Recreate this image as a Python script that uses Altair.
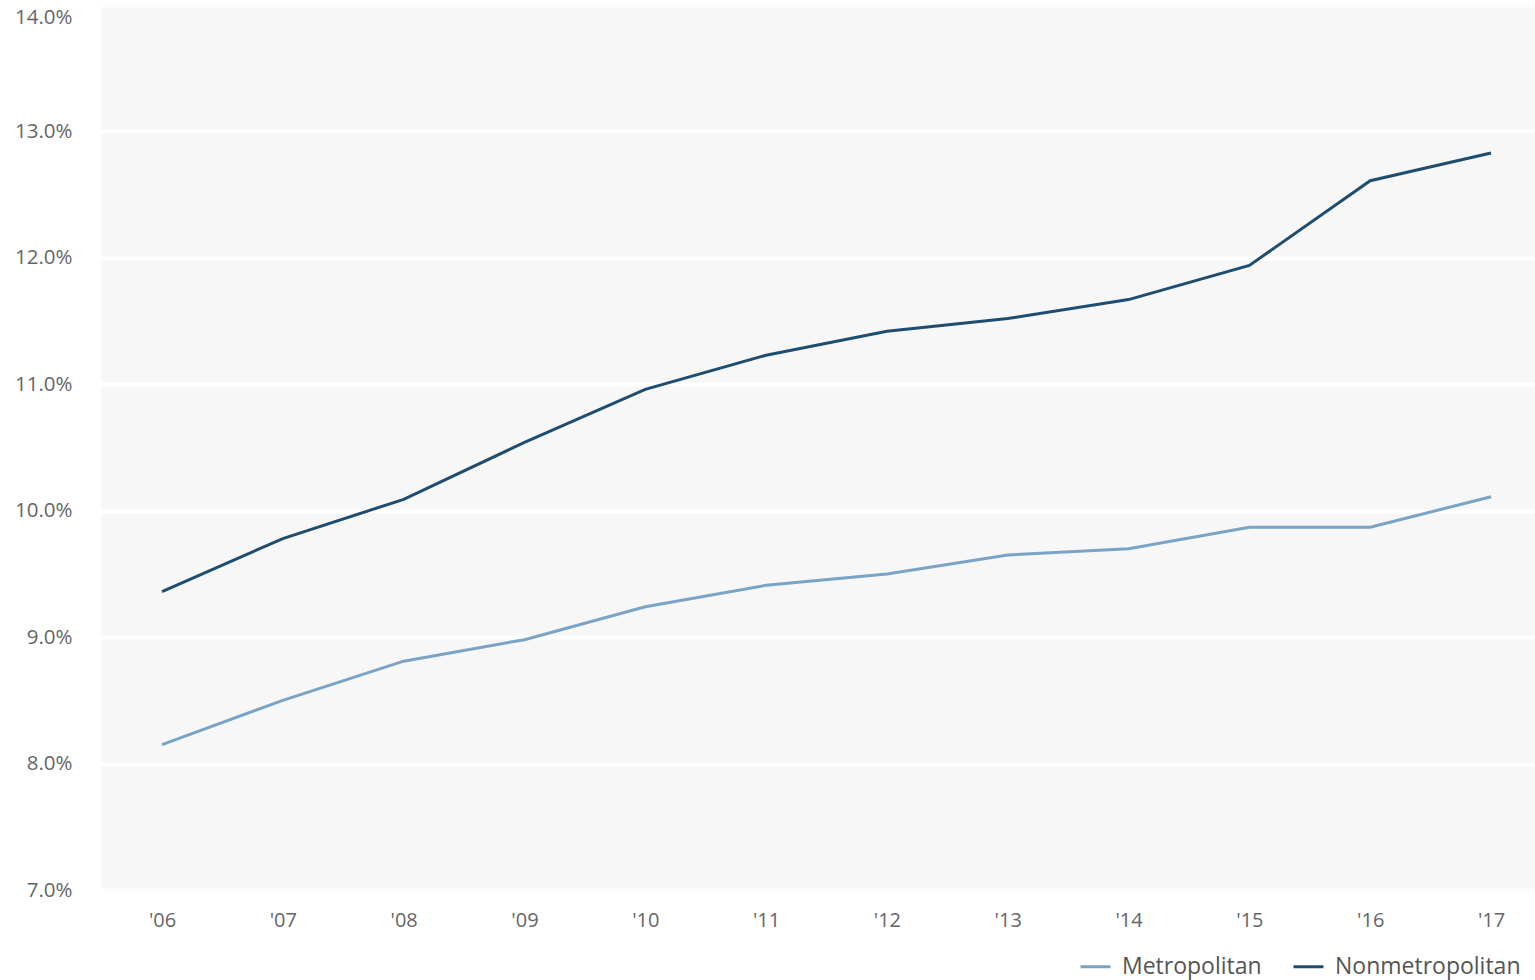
import altair as alt
import pandas as pd

# Share of population (%) by county type, 2006-2017
years = [2006, 2007, 2008, 2009, 2010, 2011, 2012, 2013, 2014, 2015, 2016, 2017]
year_labels = ["'06", "'07", "'08", "'09", "'10", "'11", "'12", "'13", "'14", "'15", "'16", "'17"]
metropolitan = [8.15, 8.50, 8.81, 8.98, 9.24, 9.41, 9.50, 9.65, 9.70, 9.87, 9.87, 10.11]
nonmetropolitan = [9.36, 9.78, 10.09, 10.54, 10.96, 11.23, 11.42, 11.52, 11.67, 11.94, 12.61, 12.83]
series_names = ["Metropolitan", "Nonmetropolitan"]
series_colors = ["#7aa3c6", "#1f4d70"]
y_ticks = [7, 8, 9, 10, 11, 12, 13, 14]

rows = []
for name, vals in zip(series_names, [metropolitan, nonmetropolitan]):
    for yr, v in zip(years, vals):
        rows.append({"year": yr, "value": v, "series": name})
df = pd.DataFrame(rows)

# map each year to its short label for the x axis
label_map = ", ".join(f'"{y}": "{lab}"' for y, lab in zip(years, year_labels))
x_label_expr = "{" + label_map + "}[toString(datum.value)]"

FONT = "Open Sans"

chart = (
    alt.Chart(df)
    .mark_line(strokeWidth=3)
    .encode(
        x=alt.X(
            "year:Q",
            scale=alt.Scale(domain=[2005.495, 2017.364], nice=False, zero=False),
            axis=alt.Axis(
                title=None,
                values=years,
                labelExpr=x_label_expr,
                labelAngle=0,
                labelFontSize=20,
                labelColor="#666666",
                labelFont=FONT,
                labelPadding=20,
                labelFlush=False,
                ticks=False,
                domain=False,
                grid=False,
            ),
        ),
        y=alt.Y(
            "value:Q",
            scale=alt.Scale(domain=[7, 14], nice=False, zero=False),
            axis=alt.Axis(
                title=None,
                values=y_ticks,
                labelExpr="format(datum.value, '.1f') + '%'",
                labelFontSize=20.5,
                labelColor="#666666",
                labelFont=FONT,
                labelPadding=29,
                labelOffset={"expr": "datum.value >= 14 ? 12 : 0"},
                ticks=False,
                domain=False,
                grid=True,
                gridColor="#ffffff",
                gridWidth=4,
            ),
        ),
        color=alt.Color(
            "series:N",
            scale=alt.Scale(domain=series_names, range=series_colors),
            legend=alt.Legend(
                title=None,
                orient="none",
                direction="horizontal",
                legendX=978,
                legendY=945,
                symbolType="stroke",
                symbolSize=900,
                symbolStrokeWidth=3,
                labelFontSize=23,
                labelFont=FONT,
                labelColor="#555555",
                labelOffset=10,
                labelLimit=0,
                columnPadding=25,
            ),
        ),
    )
    .properties(
        width=1434,
        height=885,
        autosize=alt.AutoSizeParams(type="none"),
        padding={"left": 101, "top": 5, "right": 0, "bottom": 90},
        view=alt.ViewBackground(fill="#f7f7f7", strokeWidth=0),
    )
    .configure(background="#ffffff")
)

chart.save("out.html", embed_options={"renderer": "svg", "actions": False})
